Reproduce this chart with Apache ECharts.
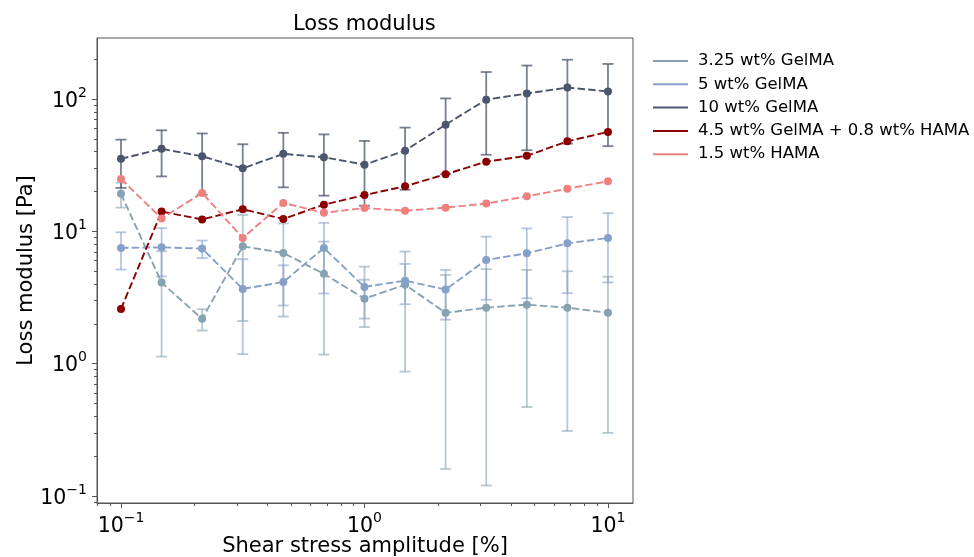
<!DOCTYPE html>
<html>
<head>
<meta charset="utf-8">
<script src="https://cdn.jsdelivr.net/npm/echarts@6/dist/echarts.min.js"></script>
<style>
html,body{margin:0;padding:0;background:#fff;}
#c{width:974px;height:557px;}
</style>
</head>
<body>
<div id="c"></div>
<script>
// ---- data ----
const shearAmplitude = [0.1, 0.1468, 0.2154, 0.3162, 0.4642, 0.6813, 1.0, 1.468, 2.154, 3.162, 4.642, 6.813, 10.0];

const gel325 = [19.2, 4.1, 2.18, 7.7, 6.87, 4.77, 3.1, 3.95, 2.42, 2.65, 2.79, 2.65, 2.42];
const gel325Err = [4.1, 2.97, 0.4, 5.6, 4.6, 3.6, 1.21, 3.08, 2.26, 2.53, 2.32, 2.34, 2.12];

const gel5 = [7.49, 7.57, 7.4, 3.67, 4.14, 7.49, 3.8, 4.24, 3.63, 6.08, 6.82, 8.11, 8.91];
const gel5Err = [2.35, 3.0, 1.12, 2.49, 1.39, 4.1, 1.61, 1.43, 1.48, 3.04, 3.7, 4.7, 4.8];

const gel10 = [35.3, 42, 36.9, 29.9, 38.5, 36.3, 31.9, 40.7, 64, 98.9, 110, 122, 114];
const gel10Err = [14, 16, 18, 15.6, 17, 17.7, 16.3, 20.1, 37, 61, 69, 76, 70];

const gelHama = [2.59, 14.1, 12.3, 14.7, 12.4, 15.9, 18.8, 21.9, 27, 33.6, 37.2, 47.9, 56.4];
const hama15 = [24.9, 12.5, 19.5, 8.91, 16.4, 13.8, 15.0, 14.3, 15.1, 16.2, 18.4, 21, 23.9];

const seriesNames = ['3.25 wt% GelMA', '5 wt% GelMA', '10 wt% GelMA', '4.5 wt% GelMA + 0.8 wt% HAMA', '1.5 wt% HAMA'];

const xMajorTicks = [0.1, 1, 10];
const xMinorTicks = [0.08, 0.09, 0.2, 0.3, 0.4, 0.5, 0.6, 0.7, 0.8, 0.9, 2, 3, 4, 5, 6, 7, 8, 9];
const yMajorTicks = [0.1, 1, 10, 100];
const yMinorTicks = [0.09, 0.2, 0.3, 0.4, 0.5, 0.6, 0.7, 0.8, 0.9, 2, 3, 4, 5, 6, 7, 8, 9,
                     20, 30, 40, 50, 60, 70, 80, 90, 200];

// ---- chart ----
const FONT = 'DejaVu Sans';
const colors = ['#87a3b3', '#86a0c9', '#4b566e', '#8b0000', '#f08080'];

function powLabel(v) {
  const e = Math.round(Math.log10(v));
  const s = e < 0 ? '\u2212' + (-e) : String(e);
  return '{b|10}{s|' + s + '}';
}
const richLabel = {
  b: {fontSize: 20.5, fontFamily: FONT, color: '#000', lineHeight: 26, verticalAlign: 'bottom'},
  s: {fontSize: 14, fontFamily: FONT, color: '#000', lineHeight: 14, verticalAlign: 'top'}
};

function errSeries(vals, errs, color, opacity) {
  return {
    type: 'custom',
    xAxisIndex: 0, yAxisIndex: 0,
    silent: true,
    data: shearAmplitude.map((x, i) => [x, vals[i], errs[i]]),
    encode: {x: 0, y: 1},
    renderItem: function (params, api) {
      const x = api.value(0), y = api.value(1), e = api.value(2);
      const lo = Math.max(y - e, 1e-6);
      const top = api.coord([x, y + e]);
      const bot = api.coord([x, lo]);
      const hw = 5.5;
      const st = {stroke: color, lineWidth: 1.8, opacity: opacity};
      return {
        type: 'group',
        children: [
          {type: 'line', shape: {x1: top[0], y1: top[1], x2: bot[0], y2: bot[1]}, style: st},
          {type: 'line', shape: {x1: top[0] - hw, y1: top[1], x2: top[0] + hw, y2: top[1]}, style: st},
          {type: 'line', shape: {x1: bot[0] - hw, y1: bot[1], x2: bot[0] + hw, y2: bot[1]}, style: st}
        ]
      };
    }
  };
}

function lineSeries(name, vals, color) {
  return {
    name: name,
    type: 'line',
    xAxisIndex: 0, yAxisIndex: 0,
    data: shearAmplitude.map((x, i) => [x, vals[i]]),
    symbol: 'circle',
    symbolSize: 8,
    showSymbol: true,
    itemStyle: {color: color, opacity: 1},
    lineStyle: {color: color, width: 1.9, type: [7.5, 3.2]},
    emphasis: {disabled: true},
    animation: false
  };
}

const chart = echarts.init(document.getElementById('c'), null, {renderer: 'canvas'});
const option = {
  animation: false,
  backgroundColor: '#fff',
  title: {
    text: 'Loss modulus',
    left: 288, top: 9,
    textStyle: {fontFamily: FONT, fontSize: 21, fontWeight: 'normal', color: '#000'}
  },
  legend: {
    data: seriesNames,
    orient: 'vertical',
    left: 648, top: 46,
    icon: 'rect',
    itemWidth: 35, itemHeight: 2,
    itemGap: 3.3,
    textStyle: {fontFamily: FONT, fontSize: 16.5, color: '#000', lineHeight: 20, padding: [0, 0, 0, 5]},
    selectedMode: false
  },
  grid: {
    left: 97, top: 38, right: 341, bottom: 54,
    outerBoundsMode: 'none',
    containLabel: false,
    show: true, borderColor: '#555', borderWidth: 1, backgroundColor: 'transparent'
  },
  xAxis: [
    {
      type: 'log', logBase: 10, min: 0.0797, max: 12.67,
      name: 'Shear stress amplitude [%]', nameLocation: 'middle', nameGap: 33,
      nameMoveOverlap: false,
      nameTextStyle: {fontFamily: FONT, fontSize: 21, color: '#000'},
      axisLine: {show: true, lineStyle: {color: '#555', width: 1}},
      axisTick: {show: true, length: 5, lineStyle: {color: '#555'}, customValues: xMajorTicks},
      axisLabel: {show: true, margin: 8, customValues: xMajorTicks, formatter: powLabel, rich: richLabel},
      splitLine: {show: false}, minorTick: {show: false}
    },
    {
      type: 'log', logBase: 10, min: 0.0797, max: 12.67, gridIndex: 0, position: 'bottom',
      axisLine: {show: false},
      axisTick: {show: true, length: 3, lineStyle: {color: '#555'}, customValues: xMinorTicks},
      axisLabel: {show: false},
      splitLine: {show: false}
    }
  ],
  yAxis: [
    {
      type: 'log', logBase: 10, min: 0.0885, max: 289,
      name: 'Loss modulus [Pa]', nameLocation: 'middle', nameGap: 60,
      nameMoveOverlap: false,
      nameTextStyle: {fontFamily: FONT, fontSize: 21, color: '#000'},
      axisLine: {show: true, lineStyle: {color: '#555', width: 1}},
      axisTick: {show: true, length: 5, lineStyle: {color: '#555'}, customValues: yMajorTicks},
      axisLabel: {show: true, margin: 10, customValues: yMajorTicks, formatter: powLabel, rich: richLabel},
      splitLine: {show: false}, minorTick: {show: false}
    },
    {
      type: 'log', logBase: 10, min: 0.0885, max: 289, gridIndex: 0, position: 'left',
      axisLine: {show: false},
      axisTick: {show: true, length: 3, lineStyle: {color: '#555'}, customValues: yMinorTicks},
      axisLabel: {show: false},
      splitLine: {show: false}
    }
  ],
  series: [
    errSeries(gel325, gel325Err, colors[0], 0.6),
    lineSeries(seriesNames[0], gel325, colors[0]),
    errSeries(gel5, gel5Err, colors[1], 0.6),
    lineSeries(seriesNames[1], gel5, colors[1]),
    errSeries(gel10, gel10Err, colors[2], 0.75),
    lineSeries(seriesNames[2], gel10, colors[2]),
    lineSeries(seriesNames[3], gelHama, colors[3]),
    lineSeries(seriesNames[4], hama15, colors[4])
  ]
};
chart.setOption(option);
</script>
</body>
</html>
